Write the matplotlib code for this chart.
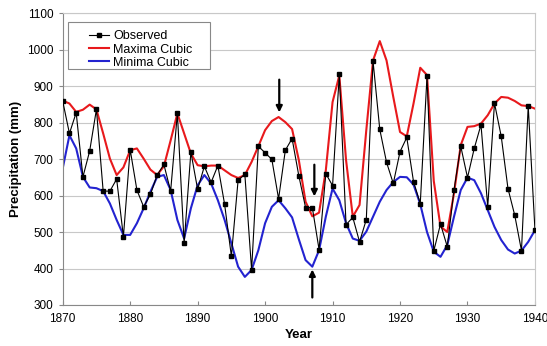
import matplotlib.pyplot as plt
from matplotlib.patches import Rectangle

plt.rcParams["font.family"] = ["Liberation Sans", "DejaVu Sans"]

# Annual observed precipitation (mm), 1870-1940
years = list(range(1870, 1941))
observed = [
    859, 770, 827, 651, 722, 836, 612, 612, 645, 487,
    726, 615, 569, 603, 656, 685, 612, 825, 469, 719,
    617, 680, 636, 682, 576, 434, 642, 658, 396, 735,
    717, 699, 591, 724, 756, 654, 567, 567, 452, 660,
    627, 932, 520, 540, 473, 534, 968, 781, 691, 633,
    720, 759, 638, 578, 927, 448, 522, 460, 615, 735,
    649, 729, 794, 569, 853, 762, 619, 546, 449, 845,
    505,
]

# Cubic envelope through the maxima
maxima = [
    860, 852, 829, 835, 849, 836, 770, 701, 656, 677,
    724, 729, 701, 671, 656, 680, 751, 825, 770, 715,
    683, 680, 682, 682, 669, 656, 648, 656, 692, 735,
    779, 804, 815, 801, 782, 697, 583, 543, 553, 669,
    856, 929, 697, 542, 574, 779, 970, 1023, 970, 870,
    774, 762, 852, 950, 930, 640, 515, 500, 606, 738,
    788, 790, 797, 820, 852, 870, 868, 859, 847, 845,
    838,
]

# Cubic envelope through the minima
minima = [
    674, 765, 729, 651, 622, 620, 612, 578, 533, 492,
    492, 524, 565, 610, 651, 656, 615, 533, 482, 565,
    628, 656, 633, 587, 533, 469, 405, 377, 396, 450,
    524, 569, 587, 565, 540, 480, 423, 405, 450, 542,
    619, 587, 524, 482, 476, 501, 542, 583, 615, 637,
    651, 650, 630, 576, 500, 446, 432, 464, 542, 615,
    649, 642, 606, 560, 514, 478, 452, 441, 449, 473,
    505,
]

fig = plt.figure(figsize=(5.47, 3.46), dpi=100)
ax = fig.add_axes([0.1146, 0.1185, 0.8634, 0.8439])

ax.plot(years, observed, color="black", lw=0.8, marker="s", ms=3.2,
        label="Observed", zorder=3)
ax.plot(years, maxima, color="#e8191c", lw=1.5, label="Maxima Cubic", zorder=2)
ax.plot(years, minima, color="#2323d0", lw=1.5, label="Minima Cubic", zorder=2)

# Arrows marking the 1902 peak and the 1907 low
arrow = dict(arrowstyle="-|>", color="black", lw=1.6, mutation_scale=9)
ax.annotate("", xy=(1902.1, 820), xytext=(1902.1, 925), arrowprops=arrow)
ax.annotate("", xy=(1907.3, 590), xytext=(1907.3, 692), arrowprops=arrow)
ax.annotate("", xy=(1907.0, 405), xytext=(1907.0, 313), arrowprops=arrow)

ax.set_xlim(1870, 1940)
ax.set_ylim(300, 1100)
ax.set_xticks(range(1870, 1941, 10))
ax.set_yticks(range(300, 1101, 100))
ax.tick_params(labelsize=8.5, length=3, color="#888888")
ax.tick_params(axis="x", direction="in", pad=6)
ax.yaxis.grid(True, color="#c8c8c8", lw=0.8)
ax.set_axisbelow(True)
for side in ["top", "right"]:
    ax.spines[side].set_color("#c8c8c8")
for side in ["left", "bottom"]:
    ax.spines[side].set_color("#888888")

ax.set_xlabel("Year", fontweight="bold", fontsize=9.5, labelpad=3)
ax.set_ylabel("Precipitation (mm)", fontweight="bold", fontsize=9.5, labelpad=4)

# Excel-style legend box with wide padding
ax.add_patch(Rectangle((0.011, 0.808), 0.301, 0.161, transform=ax.transAxes,
                       facecolor="white", edgecolor="#888888", lw=0.8, zorder=4))
leg = ax.legend(loc="upper left", bbox_to_anchor=(0.035, 0.975), fontsize=9,
                frameon=False, handlelength=1.6, handletextpad=0.3,
                borderpad=0.3, labelspacing=0.1)
leg.set_zorder(5)

fig.savefig("out.png", dpi=100)
